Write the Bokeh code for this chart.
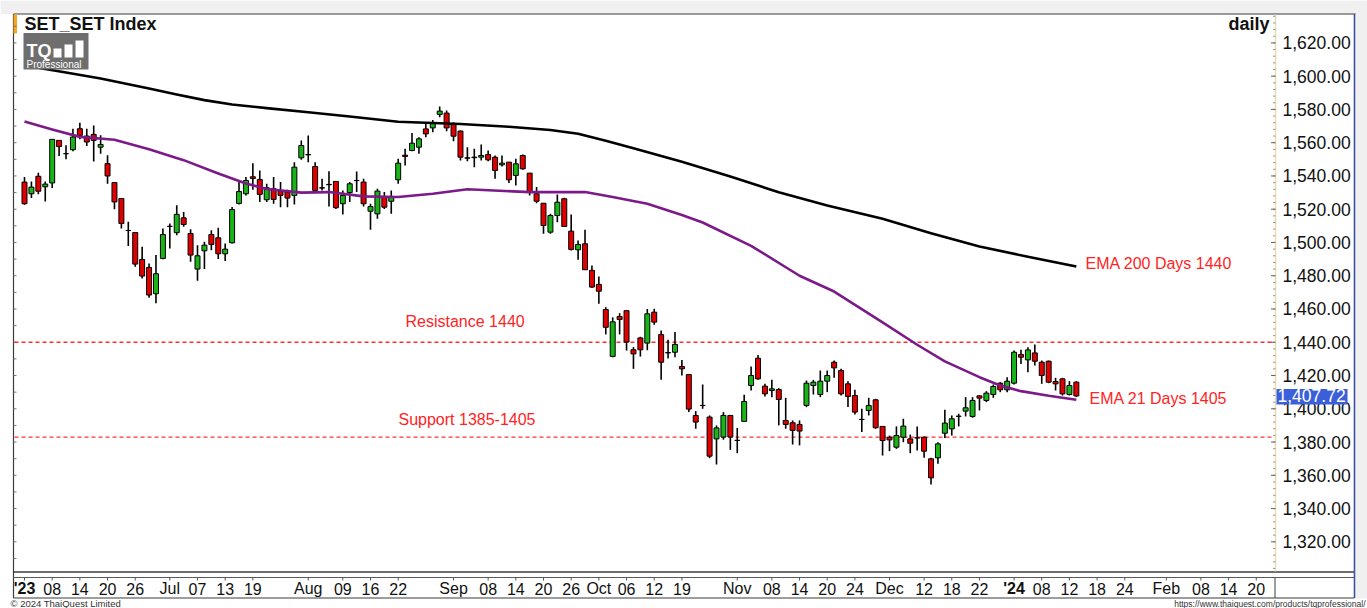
import numpy as np
from bokeh.plotting import figure
from bokeh.models import ColumnDataSource
from bokeh.core.properties import value
from bokeh.embed import file_html
from bokeh.resources import INLINE

# ---------------- data ----------------
opens = [1536.3, 1529.3, 1539.8, 1533.5, 1535.8, 1561.4, 1553.4, 1555.8, 1568.4, 1564.0,
         1565.0, 1557.3, 1547.4, 1536.0, 1526.4, 1507.2, 1506.0, 1489.8, 1485.0, 1469.2,
         1490.4, 1509.7, 1505.9, 1514.8, 1505.4, 1484.0, 1495.0, 1504.8, 1502.8, 1493.2,
         1499.8, 1523.5, 1529.3, 1539.5, 1537.9, 1525.7, 1532.3, 1530.9, 1530.3, 1528.3,
         1550.9, 1552.9, 1545.7, 1532.9, 1534.9, 1536.7, 1523.3, 1530.0, 1537.3, 1536.3,
         1518.8, 1517.2, 1527.3, 1524.8, 1537.7, 1552.5, 1555.3, 1557.3, 1568.3, 1568.9,
         1577.0, 1577.8, 1570.9, 1567.0, 1550.9, 1551.3, 1551.3, 1552.9, 1551.3, 1546.7,
         1548.3, 1540.3, 1552.3, 1541.7, 1529.3, 1523.6, 1506.2, 1516.2, 1526.3, 1506.8,
         1495.6, 1499.2, 1483.2, 1474.8, 1459.7, 1431.5, 1455.5, 1459.0, 1435.5, 1442.6,
         1439.5, 1458.1, 1444.6, 1433.8, 1434.0, 1425.4, 1420.6, 1396.0, 1402.0, 1395.0,
         1381.9, 1383.0, 1396.0, 1381.0, 1392.4, 1414.0, 1430.4, 1413.6, 1411.0, 1411.6,
         1393.0, 1391.6, 1390.6, 1402.0, 1414.0, 1408.6, 1416.6, 1428.0, 1423.0, 1415.0,
         1408.0, 1393.6, 1399.0, 1405.4, 1389.4, 1382.9, 1376.9, 1382.9, 1381.9, 1382.5,
         1382.9, 1369.9, 1370.5, 1385.3, 1387.9, 1395.5, 1398.6, 1395.4, 1407.8, 1405.0,
         1408.6, 1415.4, 1411.4, 1415.4, 1432.6, 1429.4, 1433.6, 1428.0, 1428.6, 1416.4,
         1418.0, 1408.6, 1416.0]
highs = [1539.3, 1536.7, 1541.9, 1536.7, 1562.0, 1561.4, 1558.4, 1568.4, 1572.0, 1568.4,
         1570.4, 1564.4, 1552.4, 1536.0, 1526.4, 1512.4, 1506.0, 1497.4, 1487.4, 1492.4,
         1508.4, 1511.4, 1522.4, 1518.4, 1508.0, 1498.4, 1500.4, 1507.4, 1508.8, 1499.4,
         1521.4, 1537.4, 1539.3, 1547.7, 1543.3, 1535.3, 1539.3, 1536.3, 1531.7, 1548.3,
         1561.3, 1564.3, 1548.3, 1538.3, 1542.9, 1537.0, 1531.3, 1536.3, 1542.7, 1538.3,
         1523.3, 1532.3, 1530.3, 1531.3, 1550.3, 1556.3, 1565.9, 1563.3, 1572.3, 1573.7,
         1581.8, 1579.3, 1572.3, 1567.3, 1557.3, 1556.3, 1558.9, 1555.3, 1552.3, 1552.3,
         1548.3, 1550.3, 1552.9, 1541.7, 1533.3, 1523.6, 1517.2, 1528.9, 1526.9, 1516.8,
         1501.2, 1507.6, 1486.2, 1479.6, 1461.1, 1455.0, 1457.5, 1459.0, 1437.1, 1443.3,
         1460.0, 1460.1, 1447.1, 1441.5, 1446.1, 1429.4, 1420.6, 1398.6, 1414.6, 1396.0,
         1390.0, 1398.0, 1396.0, 1388.5, 1408.4, 1425.4, 1432.4, 1415.0, 1417.4, 1412.4,
         1406.6, 1393.0, 1393.0, 1417.0, 1417.4, 1423.0, 1423.0, 1429.0, 1424.0, 1416.6,
         1411.4, 1400.0, 1406.6, 1406.0, 1389.4, 1383.9, 1389.4, 1394.0, 1384.5, 1389.4,
         1383.3, 1370.5, 1379.9, 1399.4, 1396.0, 1397.0, 1407.0, 1407.0, 1408.0, 1410.6,
         1414.6, 1416.0, 1419.0, 1435.0, 1435.5, 1437.0, 1438.6, 1429.0, 1429.0, 1418.6,
         1418.6, 1416.6, 1416.6]
lows = [1522.7, 1526.7, 1529.0, 1524.7, 1532.8, 1552.0, 1550.0, 1554.8, 1562.0, 1558.0,
        1548.7, 1553.3, 1535.3, 1520.0, 1508.4, 1497.9, 1485.4, 1478.4, 1466.8, 1463.4,
        1489.9, 1496.4, 1504.4, 1509.4, 1488.4, 1477.0, 1484.0, 1495.4, 1490.0, 1488.8,
        1499.4, 1522.8, 1528.3, 1531.7, 1524.3, 1524.3, 1523.3, 1521.2, 1521.2, 1522.8,
        1549.7, 1548.3, 1530.9, 1531.3, 1521.6, 1520.2, 1516.8, 1524.3, 1530.3, 1521.7,
        1507.6, 1514.2, 1520.2, 1517.2, 1535.3, 1546.3, 1554.9, 1553.3, 1563.3, 1566.3,
        1575.3, 1566.9, 1560.9, 1549.3, 1548.9, 1545.3, 1549.3, 1548.9, 1538.3, 1545.7,
        1535.7, 1534.3, 1543.7, 1528.3, 1523.6, 1505.2, 1505.2, 1512.2, 1509.6, 1495.2,
        1489.6, 1483.6, 1472.7, 1463.1, 1444.7, 1431.0, 1444.7, 1435.0, 1424.0, 1431.4,
        1435.2, 1450.5, 1417.4, 1430.2, 1431.0, 1420.0, 1398.0, 1388.0, 1400.0, 1370.3,
        1366.5, 1381.4, 1375.3, 1373.3, 1392.0, 1411.0, 1417.4, 1407.4, 1407.0, 1390.0,
        1388.0, 1378.5, 1378.0, 1401.0, 1408.6, 1407.0, 1410.0, 1418.6, 1408.0, 1401.0,
        1396.6, 1386.0, 1396.0, 1388.0, 1371.9, 1374.5, 1375.9, 1379.9, 1373.3, 1374.9,
        1370.5, 1354.5, 1366.9, 1382.5, 1383.9, 1389.4, 1395.4, 1394.6, 1399.0, 1404.0,
        1406.6, 1410.0, 1410.0, 1414.6, 1427.0, 1422.0, 1426.0, 1415.0, 1415.4, 1411.0,
        1408.0, 1408.0, 1407.0]
closes = [1523.3, 1533.3, 1530.8, 1535.1, 1562.0, 1557.7, 1553.4, 1563.4, 1564.4, 1560.4,
          1561.4, 1558.9, 1540.0, 1524.4, 1511.4, 1507.2, 1487.0, 1479.8, 1468.4, 1481.2,
          1504.8, 1509.7, 1516.9, 1510.8, 1492.4, 1492.0, 1498.4, 1498.8, 1493.2, 1496.0,
          1519.8, 1530.6, 1537.3, 1538.5, 1528.9, 1532.9, 1525.9, 1528.3, 1526.7, 1545.3,
          1558.3, 1552.7, 1531.3, 1532.7, 1534.7, 1520.9, 1528.3, 1535.3, 1537.2, 1523.3,
          1521.6, 1530.9, 1521.2, 1527.3, 1547.7, 1551.7, 1559.7, 1562.3, 1565.3, 1571.7,
          1579.0, 1568.9, 1563.9, 1551.3, 1550.7, 1551.0, 1552.3, 1549.7, 1543.3, 1547.7,
          1537.7, 1547.3, 1544.3, 1530.3, 1524.8, 1510.2, 1516.2, 1524.2, 1509.6, 1495.8,
          1498.8, 1483.6, 1473.2, 1470.7, 1449.0, 1452.3, 1453.7, 1440.1, 1433.0, 1435.5,
          1457.1, 1452.1, 1428.0, 1433.6, 1438.7, 1424.0, 1399.8, 1392.0, 1402.0, 1371.5,
          1388.5, 1396.0, 1383.0, 1381.0, 1404.4, 1420.0, 1418.0, 1409.0, 1412.0, 1405.6,
          1390.6, 1387.0, 1386.6, 1415.4, 1416.0, 1416.6, 1420.0, 1424.6, 1409.0, 1407.4,
          1398.0, 1393.6, 1402.0, 1388.6, 1380.9, 1381.3, 1383.9, 1389.6, 1379.3, 1382.5,
          1374.5, 1358.5, 1378.9, 1391.4, 1394.0, 1395.5, 1400.6, 1405.0, 1406.4, 1409.4,
          1413.4, 1411.4, 1416.6, 1434.0, 1431.0, 1435.4, 1428.6, 1420.0, 1416.0, 1415.0,
          1409.0, 1414.0, 1407.72]

ema200_idx = [0, 6, 11, 18, 22, 26, 30, 35, 41, 47, 54, 63, 70, 76, 80, 84, 88, 95, 102,
              109, 116, 124, 131, 138, 145, 152]
ema200_val = [1606.4, 1602.2, 1598.6, 1592.6, 1589.0, 1585.6, 1583.0, 1580.8, 1578.3, 1575.7,
              1572.6, 1571.2, 1569.6, 1567.6, 1565.4, 1561.2, 1556.6, 1548.6, 1539.7, 1530.2,
              1522.2, 1514.2, 1505.6, 1497.6, 1491.4, 1485.6]
ema21_idx = [0, 4, 8, 13, 18, 23, 28, 32, 35, 40, 44, 49, 54, 59, 64, 73, 81, 85, 90, 95,
             98, 105, 112, 117, 124, 129, 133, 138, 141, 144, 148, 152]
ema21_val = [1572.8, 1568.0, 1563.5, 1561.8, 1556.0, 1549.5, 1541.5, 1535.5, 1532.2, 1530.0,
             1530.3, 1527.7, 1527.3, 1529.3, 1532.0, 1530.3, 1530.3, 1527.3, 1523.3, 1516.5,
             1512.0, 1498.0, 1480.0, 1470.5, 1452.0, 1438.5, 1428.5, 1419.0, 1414.0, 1410.6,
             1407.8, 1405.4]

resistance = 1440
support = 1383
last_close = 1407.72

y_ticks = [1320, 1340, 1360, 1380, 1400, 1420, 1440, 1460, 1480, 1500, 1520, 1540,
           1560, 1580, 1600, 1620]
y_minor_step = 4
y_left_step = 10
x_tick_idx = [0, 4, 8, 12, 16, 21, 25, 29, 33, 41, 46, 50, 54, 62, 67, 71, 75, 79, 83, 87,
              91, 95, 103, 108, 112, 116, 120, 125, 130, 134, 138, 143, 147, 151, 155, 159,
              165, 170, 174, 178]
x_tick_lab = ["'23", "08", "14", "20", "26", "Jul", "07", "13", "19", "Aug", "09", "16", "22",
              "Sep", "08", "14", "20", "26", "Oct", "06", "12", "19", "Nov", "08", "14", "20",
              "24", "Dec", "12", "18", "22", "'24", "08", "12", "18", "24", "Feb", "08", "14", "20"]
year_labels = ["'23", "'24"]

# ---------------- pixel helpers for layout (the whole canvas is the frame) ----------------
W, H = 1367, 608
PX_PER_BAR = 6.92
BAR0_PX = 24.0
VAL_AT_PX0 = 1645.5
VAL_PER_PX = 0.6013


def dx(px):
    return (px - BAR0_PX) / PX_PER_BAR


def dy(py):
    return VAL_AT_PX0 - VAL_PER_PX * py


FONT = value("Liberation Sans")
INK = "#111111"

p = figure(width=W, height=H, x_range=(dx(0), dx(W)), y_range=(dy(H), dy(0)),
           x_axis_type=None, y_axis_type=None, output_backend="svg", toolbar_location=None,
           min_border=0)
p.min_border_left = p.min_border_right = p.min_border_top = p.min_border_bottom = 0
p.outline_line_color = None
p.grid.visible = False
p.background_fill_color = "white"
p.border_fill_color = "white"


def rect(l, r, t, b, color):
    p.quad(left=[dx(l)], right=[dx(r)], top=[dy(t)], bottom=[dy(b)],
           fill_color=color, line_color=None)


def hline(py, l, r, color="#3a3a3a", w=1.0):
    p.segment(x0=[dx(l)], y0=[dy(py)], x1=[dx(r)], y1=[dy(py)], line_color=color, line_width=w)


def vline(px, t, b, color="#3a3a3a", w=1.0):
    p.segment(x0=[dx(px)], y0=[dy(t)], x1=[dx(px)], y1=[dy(b)], line_color=color, line_width=w)


def txt(px, py, s, size="16px", color=INK, align="left", style="normal"):
    p.text(x=[dx(px)], y=[dy(py)], text=[s], text_font=FONT, text_font_size=size,
           text_color=color, text_align=align, text_baseline="middle", text_font_style=style)


# page strips outside the chart box
rect(0, W, 0, 13.5, "#f0f0f0")
rect(1355, W, 0, 598, "#f0f0f0")

# ---------------- chart frame ----------------
hline(13.5, 13, 1355, "#3c3c3c", 1.2)
vline(13, 13.5, 597.5, "#3c3c3c", 1.2)
hline(571.5, 13, 1354, "#3c3c3c", 1.4)
hline(577, 13, 1354, "#5a5a5a", 1.0)
hline(597.5, 13, 1354, "#3c3c3c", 1.2)
vline(1274.5, 577, 597.5, "#3c3c3c", 1.0)
vline(1354, 13.5, 597.5, "#3f4fa6", 1.6)
rect(13, 16.5, 14, 33, "#f5a623")

# left-edge small ticks
left_vals = list(range(1310, 1640, y_left_step))
p.segment(x0=[dx(13)] * len(left_vals), y0=left_vals, x1=[dx(16)] * len(left_vals), y1=left_vals,
          line_color="#777777", line_width=1)

# right price axis (drawn through the y scale)
vline(1275, 14, 571, "#eadcae", 1.5)
minor_vals = list(range(1304, 1640, y_minor_step))
p.segment(x0=[dx(1272.5)] * len(minor_vals), y0=minor_vals, x1=[dx(1275)] * len(minor_vals),
          y1=minor_vals, line_color="#9a9a9a", line_width=1)
p.segment(x0=[dx(1270.5)] * len(y_ticks), y0=y_ticks, x1=[dx(1275)] * len(y_ticks),
          y1=y_ticks, line_color="#666666", line_width=1)
p.text(x=[dx(1282)] * len(y_ticks), y=y_ticks, text=[f"{v:,.2f}" for v in y_ticks],
       text_font=FONT, text_font_size="17.5px", text_color=INK, text_baseline="middle",
       text_align="left")

# time axis
p.segment(x0=x_tick_idx, y0=[dy(577)] * len(x_tick_idx), x1=x_tick_idx,
          y1=[dy(580)] * len(x_tick_idx), line_color="#555555", line_width=1)
norm_x = [i for i, t in zip(x_tick_idx, x_tick_lab) if t not in year_labels]
norm_t = [t for t in x_tick_lab if t not in year_labels]
year_x = [i for i, t in zip(x_tick_idx, x_tick_lab) if t in year_labels]
year_t = [t for t in x_tick_lab if t in year_labels]
p.text(x=norm_x, y=[dy(588)] * len(norm_x), text=norm_t, text_font=FONT, text_font_size="16px",
       text_color=INK, text_align="center", text_baseline="middle")
p.text(x=year_x, y=[dy(588)] * len(year_x), text=year_t, text_font=FONT, text_font_size="16px",
       text_color=INK, text_align="center", text_baseline="middle", text_font_style="bold")

# ---------------- support / resistance ----------------
for lvl in (resistance, support):
    p.segment(x0=[dx(14)], y0=[lvl], x1=[dx(1273)], y1=[lvl], line_color="#ff3030",
              line_dash="4 3", line_width=1.3)

# ---------------- candles ----------------
x = np.arange(len(opens))
o = np.array(opens)
c = np.array(closes)
up = c >= o
src = ColumnDataSource(dict(
    x=x, high=highs, low=lows,
    top=np.maximum(o, c), bottom=np.minimum(o, c),
    color=np.where(up, "#18b418", "#e00000"),
))
p.segment(x0="x", y0="low", x1="x", y1="high", source=src, line_color="black", line_width=1.6)
p.vbar(x="x", width=0.72, top="top", bottom="bottom", source=src,
       fill_color="color", line_color="black", line_width=1)

# EMA lines
p.line(ema200_idx, ema200_val, line_color="black", line_width=2.6, line_join="round")
p.line(ema21_idx, ema21_val, line_color="#7b1a88", line_width=2.6, line_join="round")

# ---------------- annotations ----------------
RED = "#ff2424"
txt(405, 321, "Resistance 1440", color=RED)
txt(398, 419, "Support 1385-1405", color=RED)
txt(1085, 263, "EMA 200 Days 1440", color=RED)
txt(1089, 398, "EMA 21 Days 1405", color=RED)

# logo
rect(23, 88, 32.5, 69, "#6e6e6e")
txt(26, 50, "TQ", size="18px", color="white", style="bold")
for bx0, bh in [(53, 9), (64, 13), (75, 17)]:
    rect(bx0, bx0 + 8, 57 - bh, 57, "white")
txt(26, 63.5, "Professional", size="10px", color="white")

# titles
txt(24, 23, "SET_SET Index", size="18px", style="bold")
txt(1269, 23, "daily", size="18px", style="bold", align="right")

# current price tag
rect(1276, 1347, 388.5, 404, "#3b5fd8")
p.text(x=[dx(1277)], y=[last_close], text=[f"{last_close:,.2f}"], text_font=FONT,
       text_font_size="17.5px", text_color="white", text_baseline="middle")

# footer
txt(10, 603, "\u00a9 2024 ThaiQuest Limited", size="9.5px", color="#333333")
txt(1365, 603, "https://www.thaiquest.com/products/tqprofessional/", size="8.5px",
    color="#333333", align="right")

open("out.html", "w").write(file_html(p, INLINE))
